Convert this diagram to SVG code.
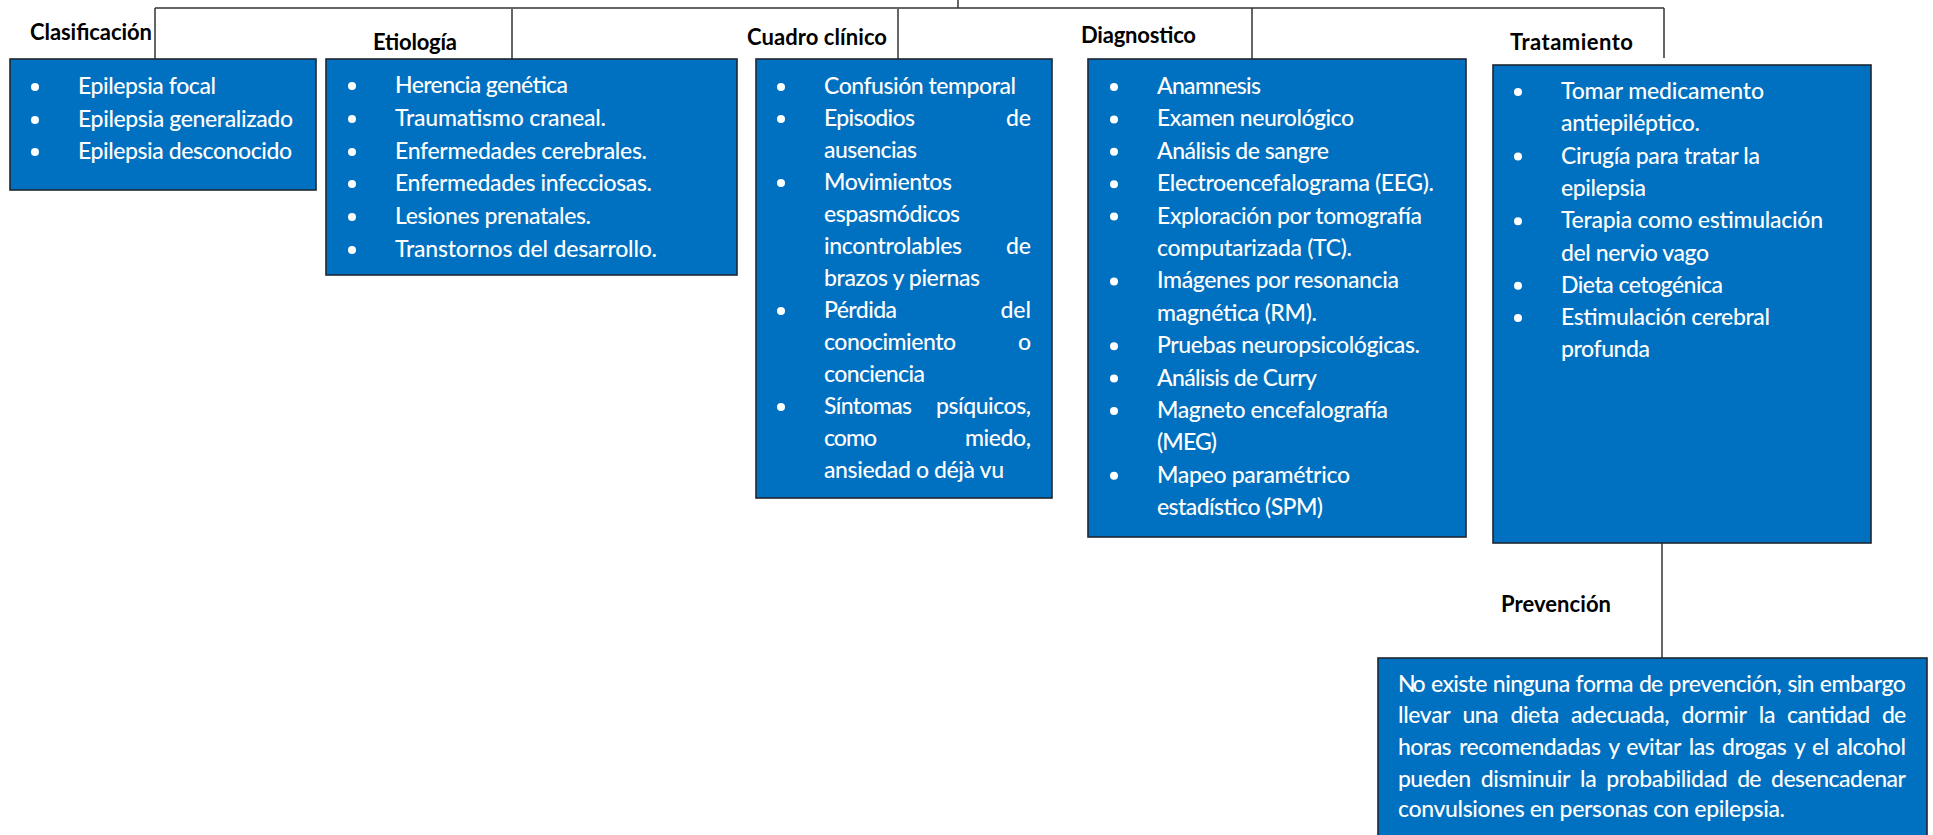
<svg xmlns="http://www.w3.org/2000/svg" width="1933" height="835" viewBox="0 0 1933 835">
<style>
.bg{fill:#ffffff}
.box{fill:#0070C0;stroke:#1d2733;stroke-width:1.6}
.conn{stroke:#333333;stroke-width:1.5;fill:none}
.lbl{font-family:Lato,"Liberation Sans",sans-serif;font-weight:700;font-size:22px;fill:#000000}
.t{font-family:Lato,"Liberation Sans",sans-serif;font-weight:500;font-size:23px;fill:#ffffff}
.e{text-anchor:end}
.dot{fill:#ffffff}
</style>
<rect class="bg" x="0" y="0" width="1933" height="835"/>
<g id="connectors">
<line class="conn" x1="155" y1="8" x2="1664" y2="8"/>
<line class="conn" x1="958" y1="0" x2="958" y2="8"/>
<line class="conn" x1="155" y1="8" x2="155" y2="59"/>
<line class="conn" x1="512" y1="9" x2="512" y2="59"/>
<line class="conn" x1="898" y1="9" x2="898" y2="62"/>
<line class="conn" x1="1252" y1="8" x2="1252" y2="59"/>
<line class="conn" x1="1664" y1="8" x2="1664" y2="58"/>
<line class="conn" x1="1662" y1="543" x2="1662" y2="658"/>
</g>
<g id="clasificacion">
<text class="lbl" x="30" y="40" textLength="122" lengthAdjust="spacing">Clasificación</text>
<rect class="box" x="10" y="59" width="306" height="131"/>
<circle class="dot" cx="35" cy="87" r="4"/><text class="t" x="78" y="94" textLength="138" lengthAdjust="spacing">Epilepsia focal</text>
<circle class="dot" cx="35" cy="120" r="4"/><text class="t" x="78" y="127" textLength="215" lengthAdjust="spacing">Epilepsia generalizado</text>
<circle class="dot" cx="35" cy="152" r="4"/><text class="t" x="78" y="159" textLength="214" lengthAdjust="spacing">Epilepsia desconocido</text>
</g>
<g id="etiologia">
<text class="lbl" x="373" y="50" textLength="84" lengthAdjust="spacing">Etiología</text>
<rect class="box" x="326" y="59" width="411" height="216"/>
<circle class="dot" cx="352" cy="86" r="4"/><text class="t" x="395" y="93" textLength="173" lengthAdjust="spacing">Herencia genética</text>
<circle class="dot" cx="352" cy="119" r="4"/><text class="t" x="395" y="126" textLength="211" lengthAdjust="spacing">Traumatismo craneal.</text>
<circle class="dot" cx="352" cy="152" r="4"/><text class="t" x="395" y="159" textLength="252" lengthAdjust="spacing">Enfermedades cerebrales.</text>
<circle class="dot" cx="352" cy="184" r="4"/><text class="t" x="395" y="191" textLength="257" lengthAdjust="spacing">Enfermedades infecciosas.</text>
<circle class="dot" cx="352" cy="217" r="4"/><text class="t" x="395" y="224" textLength="196" lengthAdjust="spacing">Lesiones prenatales.</text>
<circle class="dot" cx="352" cy="250" r="4"/><text class="t" x="395" y="257" textLength="262" lengthAdjust="spacing">Transtornos del desarrollo.</text>
</g>
<g id="cuadro-clinico">
<text class="lbl" x="747" y="45" textLength="140" lengthAdjust="spacing">Cuadro clínico</text>
<rect class="box" x="756" y="59" width="296" height="439"/>
<circle class="dot" cx="781" cy="87" r="4"/><text class="t" x="824" y="94" textLength="192" lengthAdjust="spacing">Confusión temporal</text>
<circle class="dot" cx="781" cy="119" r="4"/><text class="t" x="824" y="126" textLength="91" lengthAdjust="spacing">Episodios</text><text class="t e" x="1031" y="126">de</text>
<text class="t" x="824" y="158" textLength="93" lengthAdjust="spacing">ausencias</text>
<circle class="dot" cx="781" cy="183" r="4"/><text class="t" x="824" y="190" textLength="128" lengthAdjust="spacing">Movimientos</text>
<text class="t" x="824" y="222" textLength="136" lengthAdjust="spacing">espasmódicos</text>
<text class="t" x="824" y="254" textLength="138" lengthAdjust="spacing">incontrolables</text><text class="t e" x="1031" y="254">de</text>
<text class="t" x="824" y="286" textLength="156" lengthAdjust="spacing">brazos y piernas</text>
<circle class="dot" cx="781" cy="311" r="4"/><text class="t" x="824" y="318" textLength="73" lengthAdjust="spacing">Pérdida</text><text class="t e" x="1031" y="318">del</text>
<text class="t" x="824" y="350" textLength="132" lengthAdjust="spacing">conocimiento</text><text class="t e" x="1031" y="350">o</text>
<text class="t" x="824" y="382" textLength="101" lengthAdjust="spacing">conciencia</text>
<circle class="dot" cx="781" cy="407" r="4"/><text class="t" x="824" y="414" textLength="88" lengthAdjust="spacing">Síntomas</text><text class="t" x="936" y="414" textLength="95" lengthAdjust="spacing">psíquicos,</text>
<text class="t" x="824" y="446" textLength="53" lengthAdjust="spacing">como</text><text class="t" x="965" y="446" textLength="66" lengthAdjust="spacing">miedo,</text>
<text class="t" x="824" y="478" textLength="180" lengthAdjust="spacing">ansiedad o déjà vu</text>
</g>
<g id="diagnostico">
<text class="lbl" x="1081" y="43" textLength="115" lengthAdjust="spacing">Diagnostico</text>
<rect class="box" x="1088" y="59" width="378" height="478"/>
<circle class="dot" cx="1114" cy="87" r="4"/><text class="t" x="1157" y="94" textLength="104" lengthAdjust="spacing">Anamnesis</text>
<circle class="dot" cx="1114" cy="119.4" r="4"/><text class="t" x="1157" y="126.4" textLength="197" lengthAdjust="spacing">Examen neurológico</text>
<circle class="dot" cx="1114" cy="151.8" r="4"/><text class="t" x="1157" y="158.8" textLength="172" lengthAdjust="spacing">Análisis de sangre</text>
<circle class="dot" cx="1114" cy="184.2" r="4"/><text class="t" x="1157" y="191.2" textLength="277" lengthAdjust="spacing">Electroencefalograma (EEG).</text>
<circle class="dot" cx="1114" cy="216.6" r="4"/><text class="t" x="1157" y="223.6" textLength="265" lengthAdjust="spacing">Exploración por tomografía</text>
<text class="t" x="1157" y="256" textLength="195" lengthAdjust="spacing">computarizada (TC).</text>
<circle class="dot" cx="1114" cy="281.4" r="4"/><text class="t" x="1157" y="288.4" textLength="242" lengthAdjust="spacing">Imágenes por resonancia</text>
<text class="t" x="1157" y="320.8" textLength="160" lengthAdjust="spacing">magnética (RM).</text>
<circle class="dot" cx="1114" cy="346.2" r="4"/><text class="t" x="1157" y="353.2" textLength="263" lengthAdjust="spacing">Pruebas neuropsicológicas.</text>
<circle class="dot" cx="1114" cy="378.6" r="4"/><text class="t" x="1157" y="385.6" textLength="160" lengthAdjust="spacing">Análisis de Curry</text>
<circle class="dot" cx="1114" cy="411" r="4"/><text class="t" x="1157" y="418" textLength="231" lengthAdjust="spacing">Magneto encefalografía</text>
<text class="t" x="1157" y="450.4" textLength="60" lengthAdjust="spacing">(MEG)</text>
<circle class="dot" cx="1114" cy="475.8" r="4"/><text class="t" x="1157" y="482.8" textLength="193" lengthAdjust="spacing">Mapeo paramétrico</text>
<text class="t" x="1157" y="515.2" textLength="166" lengthAdjust="spacing">estadístico (SPM)</text>
</g>
<g id="tratamiento">
<text class="lbl" x="1510" y="50" textLength="123" lengthAdjust="spacing">Tratamiento</text>
<rect class="box" x="1493" y="65" width="378" height="478"/>
<circle class="dot" cx="1518" cy="92" r="4"/><text class="t" x="1561" y="99" textLength="203" lengthAdjust="spacing">Tomar medicamento</text>
<text class="t" x="1561" y="131.3" textLength="139" lengthAdjust="spacing">antiepiléptico.</text>
<circle class="dot" cx="1518" cy="156.6" r="4"/><text class="t" x="1561" y="163.6" textLength="199" lengthAdjust="spacing">Cirugía para tratar la</text>
<text class="t" x="1561" y="195.9" textLength="85" lengthAdjust="spacing">epilepsia</text>
<circle class="dot" cx="1518" cy="221.2" r="4"/><text class="t" x="1561" y="228.2" textLength="262" lengthAdjust="spacing">Terapia como estimulación</text>
<text class="t" x="1561" y="260.5" textLength="148" lengthAdjust="spacing">del nervio vago</text>
<circle class="dot" cx="1518" cy="285.8" r="4"/><text class="t" x="1561" y="292.8" textLength="162" lengthAdjust="spacing">Dieta cetogénica</text>
<circle class="dot" cx="1518" cy="318.1" r="4"/><text class="t" x="1561" y="325.1" textLength="209" lengthAdjust="spacing">Estimulación cerebral</text>
<text class="t" x="1561" y="357.4" textLength="89" lengthAdjust="spacing">profunda</text>
</g>
<g id="prevencion">
<text class="lbl" x="1501" y="612" textLength="110" lengthAdjust="spacing">Prevención</text>
<rect class="box" x="1378" y="658" width="549" height="190"/>
<text class="t" x="1398" y="692" textLength="27.7" lengthAdjust="spacing">No</text>
<text class="t" x="1431.1" y="692" textLength="56.3" lengthAdjust="spacing">existe</text>
<text class="t" x="1492.8" y="692" textLength="77.4" lengthAdjust="spacing">ninguna</text>
<text class="t" x="1575.6" y="692" textLength="58" lengthAdjust="spacing">forma</text>
<text class="t" x="1639.1" y="692" textLength="24.1" lengthAdjust="spacing">de</text>
<text class="t" x="1668.6" y="692" textLength="113.3" lengthAdjust="spacing">prevención,</text>
<text class="t" x="1787.4" y="692" textLength="27" lengthAdjust="spacing">sin</text>
<text class="t" x="1819.8" y="692" textLength="86.1" lengthAdjust="spacing">embargo</text>
<text class="t" x="1398" y="723" textLength="52.8" lengthAdjust="spacing">llevar</text>
<text class="t" x="1462.5" y="723" textLength="36.1" lengthAdjust="spacing">una</text>
<text class="t" x="1510.4" y="723" textLength="48.8" lengthAdjust="spacing">dieta</text>
<text class="t" x="1570.9" y="723" textLength="98.7" lengthAdjust="spacing">adecuada,</text>
<text class="t" x="1681.4" y="723" textLength="65.6" lengthAdjust="spacing">dormir</text>
<text class="t" x="1758.7" y="723" textLength="16.7" lengthAdjust="spacing">la</text>
<text class="t" x="1787.1" y="723" textLength="83.1" lengthAdjust="spacing">cantidad</text>
<text class="t" x="1882" y="723" textLength="24.1" lengthAdjust="spacing">de</text>
<text class="t" x="1398" y="755" textLength="53.6" lengthAdjust="spacing">horas</text>
<text class="t" x="1458.9" y="755" textLength="142" lengthAdjust="spacing">recomendadas</text>
<text class="t" x="1608.2" y="755" textLength="10.7" lengthAdjust="spacing">y</text>
<text class="t" x="1626.2" y="755" textLength="55.3" lengthAdjust="spacing">evitar</text>
<text class="t" x="1688.8" y="755" textLength="25.9" lengthAdjust="spacing">las</text>
<text class="t" x="1722" y="755" textLength="64.7" lengthAdjust="spacing">drogas</text>
<text class="t" x="1794" y="755" textLength="10.7" lengthAdjust="spacing">y</text>
<text class="t" x="1812" y="755" textLength="17.2" lengthAdjust="spacing">el</text>
<text class="t" x="1836.5" y="755" textLength="69.4" lengthAdjust="spacing">alcohol</text>
<text class="t" x="1398" y="787" textLength="73.1" lengthAdjust="spacing">pueden</text>
<text class="t" x="1480.7" y="787" textLength="89.7" lengthAdjust="spacing">disminuir</text>
<text class="t" x="1580" y="787" textLength="16.7" lengthAdjust="spacing">la</text>
<text class="t" x="1606.3" y="787" textLength="121.4" lengthAdjust="spacing">probabilidad</text>
<text class="t" x="1737.3" y="787" textLength="24.1" lengthAdjust="spacing">de</text>
<text class="t" x="1771" y="787" textLength="134.9" lengthAdjust="spacing">desencadenar</text>
<text class="t" x="1398" y="817" textLength="387" lengthAdjust="spacing">convulsiones en personas con epilepsia.</text>
</g>
</svg>
